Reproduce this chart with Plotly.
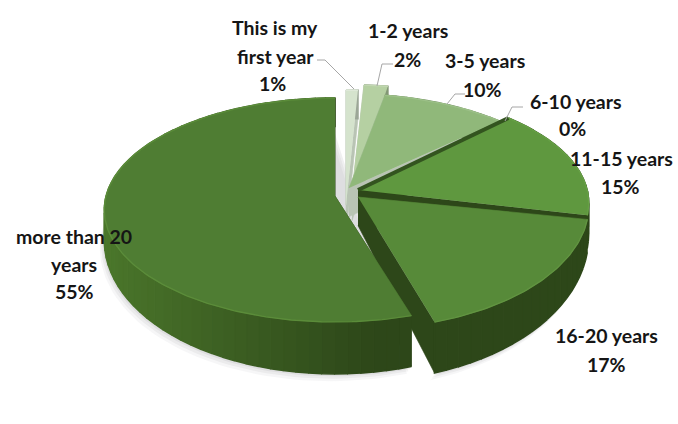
import numpy as np
import plotly.graph_objects as go

# ---- data ----
CATEGORIES = ["This is my first year", "1-2 years", "3-5 years", "6-10 years",
              "11-15 years", "16-20 years", "more than 20 years"]
PERCENTS = [1, 2, 10, 0, 15, 17, 55]

# ---- styling / layout ----
TOP_COLORS = ["#d5e3cd", "#b5d0a2", "#90b87a", "#33541f", "#5f983f", "#578a39", "#4f7d33"]
RIM_COLORS = ["#e0eadb", "#c2d7b2", "#9cc088", "#33541f", "#66a045", "#619441", "#5b8c3a"]
# slice centre x, y, vertical radius scale, apex shift in y
PLACEMENT = [(346, 193, 1.0, 12), (352, 188, 1.0, 4), (349, 197, 1.0, -9), (358, 194, 1.0, -4),
             (358, 194, 1.0, -4), (358, 196, 1.1, 1), (335, 201, 1.0, -5)]
DRAW_ORDER = [0, 1, 2, 4, 3, 5, 6]
RX, RY, PERSP, DEPTH, BACK_SQUEEZE = 230, 112, 0.08, 52, 0.05
FONT_SIZE = 19.5
LABEL_LINES = {
    0: [("This is my", 275, 27), ("first year", 275, 56), ("{}%", 272, 83)],
    1: [("1-2 years", 408, 30), ("{}%", 407, 59)],
    2: [("3-5 years", 485, 60), ("{}%", 482, 89)],
    3: [("6-10 years", 576, 101), ("{}%", 572, 128)],
    4: [("11-15 years", 621, 158), ("{}%", 620, 186)],
    5: [("16-20 years", 606, 335), ("{}%", 606, 364)],
    6: [("more than 20", 74, 236), ("years", 74, 264), ("{}%", 74, 291)],
}
LEADERS = [([317, 325, 354], [60, 60, 89]), ([393, 382, 377], [64, 64, 86]),
           ([465, 455, 447], [94, 94, 104]), ([523, 512, 505], [107, 107, 121])]


def rim(a, place):
    cx, cy, k, _ = place
    a = np.asarray(a, dtype=float)
    # the far half of a tilted pie looks narrower in angle
    a = a - BACK_SQUEEZE * np.sin(2 * a) * (np.cos(a) > 0)
    u, v = np.sin(a), -np.cos(a)
    s = 1 + PERSP * v
    return cx + RX * u * s, cy + RY * k * v * s, u, v


def depth(v):
    return DEPTH * (0.55 + 0.45 * np.clip(v, 0, 1))


def mix(c1, c2, t):
    a = [int(c1[i:i + 2], 16) for i in (1, 3, 5)]
    b = [int(c2[i:i + 2], 16) for i in (1, 3, 5)]
    return "#%02x%02x%02x" % tuple(round(p + (q - p) * t) for p, q in zip(a, b))


def poly(fig, xs, ys, color, lw=0.6):
    fig.add_trace(go.Scatter(x=list(xs), y=list(ys), mode="lines", fill="toself", fillcolor=color,
                             line=dict(color=color, width=lw), hoverinfo="skip", showlegend=False))


fig = go.Figure()
edges = np.cumsum([0] + PERCENTS) / 100 * 2 * np.pi

# soft shadow under the big and exploded slices
for grow, alpha in ((9, 0.06), (6, 0.08), (3, 0.10)):
    for i in (5, 6):
        a = np.linspace(edges[i], edges[i + 1], 90)
        x, y, u, v = rim(a, PLACEMENT[i])
        poly(fig, x - grow * 0.5, y + depth(v) + grow * 0.8, "rgba(110,110,120,%.2f)" % alpha, 0)

for i in DRAW_ORDER:
    place = PLACEMENT[i]
    a0, a1 = edges[i], edges[i + 1]
    cx, cy, k, apex_dy = place
    ax, ay = cx, cy + apex_dy
    if PERCENTS[i] == 0:
        x, y, _, _ = rim(a0, place)
        fig.add_trace(go.Scatter(x=[ax, float(x)], y=[ay, float(y)], mode="lines", hoverinfo="skip",
                                 showlegend=False, line=dict(color=TOP_COLORS[i], width=4)))
        continue
    base = TOP_COLORS[i]
    light = i < 3
    dark_l = mix(base, "#000000", 0.12) if light else "#4b772b"
    dark_r = mix(base, "#000000", 0.28) if light else "#2d4719"
    # cut faces
    for ang in (a0, a1):
        x, y, _, v = rim(ang, place)
        d0, d1 = depth(0), depth(v)
        poly(fig, [ax, float(x), float(x), ax], [ay, float(y), float(y + d1), ay + d0],
             dark_r if not light else "#b9c4b4")
    # outer wall, drawn in strips so that it darkens toward the right
    n = max(2, int((a1 - a0) / np.radians(3)))
    ang = np.linspace(a0, a1, n + 1)
    for j in range(n):
        x, y, u, v = rim(ang[j:j + 2], place)
        t = np.clip((u.mean() + 1) / 1.15, 0, 1)
        poly(fig, [x[0], x[1], x[1], x[0]], [y[0], y[1], y[1] + depth(v[1]), y[0] + depth(v[0])],
             mix(dark_l, dark_r, t), 1.5)
    # top surface
    a = np.linspace(a0, a1, max(3, n * 3))
    x, y, u, v = rim(a, place)
    poly(fig, np.r_[ax, x], np.r_[ay, y], base)
    fig.add_trace(go.Scatter(x=x, y=y, mode="lines", hoverinfo="skip", showlegend=False,
                             line=dict(color=RIM_COLORS[i], width=1.4)))

for lx, ly in LEADERS:
    fig.add_trace(go.Scatter(x=lx, y=ly, mode="lines", hoverinfo="skip", showlegend=False,
                             line=dict(color="#a6a6a6", width=1)))

for i, lines in LABEL_LINES.items():
    for text, x, y in lines:
        fig.add_annotation(x=x, y=y, text=text.format(PERCENTS[i]), showarrow=False,
                           font=dict(family="Lato", size=FONT_SIZE, color="#151515", weight="bold"),
                           xanchor="center", yanchor="middle")

fig.update_layout(width=678, height=424, margin=dict(l=0, r=0, t=0, b=0), showlegend=False,
                  paper_bgcolor="#ffffff", plot_bgcolor="#ffffff",
                  xaxis=dict(range=[0, 678], visible=False, fixedrange=True),
                  yaxis=dict(range=[424, 0], visible=False, fixedrange=True))
fig.write_html("out.html", config={"displayModeBar": False},
               post_script="document.body.style.margin='0';")
